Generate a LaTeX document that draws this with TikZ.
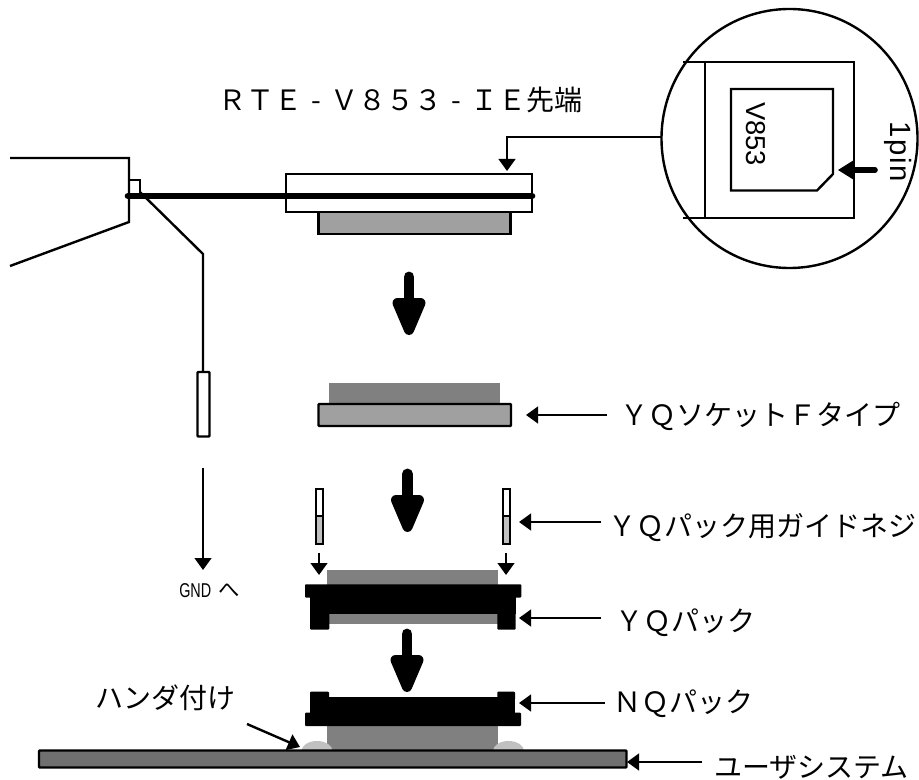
\documentclass[tikz,border=0pt]{standalone}
\usepackage{fontspec}
\usetikzlibrary{arrows.meta}
\newfontfamily\jp{Noto Sans CJK JP}
\setmainfont{Liberation Sans}
\tikzset{
  x=0.75pt,y=-0.75pt,
  ln/.style={line width=1.8pt,draw=black,line join=miter},
  arr/.style={ln,-{Triangle[length=9pt,width=12.5pt]}},
  lab/.style={anchor=west,inner sep=0pt,font=\jp\fontsize{21pt}{23pt}\selectfont,text=black},
  blk/.style={fill=black,rounded corners=0.7pt},
  latin/.style={inner sep=0pt,font=\fontsize{20.5pt}{22pt}\selectfont,text=black,rotate=-90},
}
\definecolor{gA}{HTML}{808080}
\definecolor{gB}{HTML}{A0A0A0}
\definecolor{gC}{HTML}{C0C0C0}
\definecolor{gD}{HTML}{707070}
\newcommand{\bigdown}[2]{%
  \draw[line width=8.2pt,line cap=round] (#1,#2+6) -- (#1,#2+34);
  \filldraw[line width=7.5pt,line join=round] (#1-11.5,#2+32) -- (#1+11.5,#2+32) -- (#1,#2+59) -- cycle;
}
\newcommand{\fwdash}{\makebox[1em]{-}}
\begin{document}
\begin{tikzpicture}
\useasboundingbox (0,0) rectangle (919,780);
% named points for connectors
\coordinate (lensW) at (662,137);
\coordinate (headTip) at (507,171);
\coordinate (headBend) at (507,137);
\coordinate (gndFrom) at (203,468);
\coordinate (gndTo) at (203,570);
\coordinate (sockFrom) at (607,415);
\coordinate (sockTo) at (526,415);
\coordinate (guideFrom) at (601,522);
\coordinate (guideTo) at (519,522);
\coordinate (packFrom) at (601,618);
\coordinate (packTo) at (519,618);
\coordinate (nqFrom) at (605,703);
\coordinate (nqTo) at (519,703);
\coordinate (userFrom) at (702,762);
\coordinate (userTo) at (627,762);
\coordinate (solFrom) at (247,724);
\coordinate (solTo) at (300,747);
\coordinate (scrLfrom) at (319,553);
\coordinate (scrLto) at (319,575);
\coordinate (scrRfrom) at (506,553);
\coordinate (scrRto) at (506,575);
\coordinate (pinFrom) at (875,170);
\coordinate (pinTo) at (838,170);
% probe housing
\draw[ln] (10,158) -- (129,158) -- (129,222) -- (10,266);
\draw[ln] (129,180) -- (140,180) -- (140,196);
\draw[ln] (140,192) -- (203,254) -- (203,373);
\draw[ln,fill=white,rounded corners=0.7pt] (197.5,372) rectangle (209.5,436.5);
% RTE head
\draw[ln,fill=gB] (318.5,212) rectangle (510.5,234);
\draw[ln,fill=white] (286,174) rectangle (532,212);
\draw[line width=5pt,line cap=round] (128,196) -- (532,196);
\draw[arr] (lensW) -- (headBend) -- (headTip);
% magnifier
\draw[ln] (789.5,138.5) circle (128 and 129.5);
\draw[ln] (683,62) -- (854,62) -- (854,218) -- (683,218);
\draw[ln] (705,62) -- (705,218);
\draw[ln] (731,89) -- (833,89) -- (833,174) -- (817,190.5) -- (731,190.5) -- cycle;
\node[latin] (chip) at (756,134) {V853};
\node[latin,font=\fontsize{22pt}{24pt}\selectfont] (onepin) at (898,152) {1\kern1.2pt p\kern1.2pt i\kern1.2pt n};
\draw[line width=4.2pt,line cap=round] (875,170) -- (850,170);
\fill (pinTo) -- (854,160) -- (854,180) -- cycle;
% big arrows
\bigdown{409}{271}
\bigdown{407.5}{468}
\bigdown{407}{628}
% socket
\fill[gA] (329,382.5) rectangle (500,404);
\draw[ln,fill=gB,rounded corners=0.7pt] (318.5,404) rectangle (511,426);
\draw[arr] (sockFrom) -- (sockTo);
% guide screws
\foreach \sx in {315.8,502.8}{
  \draw[ln,fill=white] (\sx,489) rectangle (\sx+7.2,516);
  \draw[ln,fill=gC] (\sx,516) rectangle (\sx+7.2,544);
}
\draw[arr] (scrLfrom) -- (scrLto);
\draw[arr] (scrRfrom) -- (scrRto);
\draw[arr] (guideFrom) -- (guideTo);
% YQ pack
\fill[gA] (327,570) rectangle (498,586);
\fill[gA] (329,612) rectangle (497.5,623.5);
\fill[blk] (305,584.3) rectangle (521.3,597.5);
\fill[black] (310,597) rectangle (515.7,613.5);
\fill[blk] (310,605) rectangle (329.3,629.5);
\fill[blk] (497.3,605) rectangle (515.7,629.5);
\draw[arr] (packFrom) -- (packTo);
% NQ pack
\fill[gA] (327,725) rectangle (497.7,751);
\fill[blk] (305,712.7) rectangle (521,726);
\fill[black] (310,696.7) rectangle (515,713);
\fill[blk] (310,691.7) rectangle (329,700);
\fill[blk] (497.3,691.7) rectangle (515,700);
\draw[arr] (nqFrom) -- (nqTo);
% solder and board
\fill[gC] (301.5,751) arc[start angle=180,end angle=360,x radius=15.5,y radius=10];
\fill[gC] (493,751) arc[start angle=180,end angle=360,x radius=15.5,y radius=10];
\draw[ln,fill=gD,rounded corners=0.7pt] (39,750.5) rectangle (626.5,767.5);
\draw[arr] (userFrom) -- (userTo);
\draw[arr] (solFrom) -- (solTo);
\draw[arr] (gndFrom) -- (gndTo);
% labels
\node[lab] (lRTE) at (218,100) {ＲＴＥ\fwdash Ｖ８５３\fwdash ＩＥ先端};
\node[lab] (lSock) at (620,416.5) {ＹＱソケットＦタイプ};
\node[lab] (lGuide) at (608,528) {ＹＱパック用ガイドネジ};
\node[lab] (lPack) at (615,623) {ＹＱパック};
\node[lab] (lNQ) at (613,704) {ＮＱパック};
\node[lab] (lSol) at (95,698) {ハンダ付け};
\node[lab] (lUser) at (714,767) {ユーザシステム};
\node[anchor=west,inner sep=0pt,text=black] (lGND) at (179,591) {\scalebox{0.72}[1]{\fontsize{15pt}{16pt}\selectfont GND}\kern5.5pt{\jp\fontsize{16pt}{18pt}\selectfont へ}};
\end{tikzpicture}
\end{document}
